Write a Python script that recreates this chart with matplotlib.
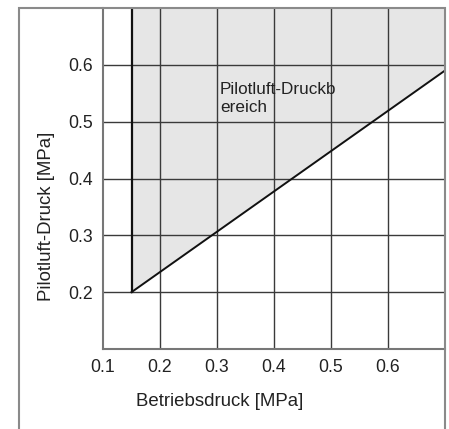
import numpy as np
import matplotlib
matplotlib.use("Agg")
import matplotlib.pyplot as plt
from matplotlib.patches import Rectangle

# Chart data
x_ticks = [0.1, 0.2, 0.3, 0.4, 0.5, 0.6]
y_ticks = [0.2, 0.3, 0.4, 0.5, 0.6]
x_limits = [0.1, 0.7]
y_limits = [0.1, 0.7]

# Boundary of the pilot air pressure range
boundary_x = [0.15, 0.7]
boundary_y = [0.2, 0.59]
region_label = "Pilotluft-Druckb\nereich"
region_label_pos = (0.305, 0.57)

plt.rcParams["font.family"] = ["Liberation Sans", "DejaVu Sans"]

fig = plt.figure(figsize=(4.49, 4.29), dpi=100)
ax = fig.add_axes([103 / 449, 80 / 429, 342 / 449, 341 / 429])

# Shaded region above the diagonal, right of x = 0.15
fill_x = np.array(boundary_x)
ax.fill_between(fill_x, boundary_y, y_limits[1], color="#e6e6e6", zorder=0, lw=0)

# Grid
for xv in x_ticks[1:]:
    ax.axvline(xv, color="#3a3a3a", lw=1.0, zorder=1)
for yv in y_ticks:
    ax.axhline(yv, color="#3a3a3a", lw=1.0, zorder=1)

# Boundary lines
ax.plot([boundary_x[0], boundary_x[0]], [boundary_y[0], y_limits[1]],
        color="#111111", lw=1.6, zorder=3)
ax.plot(boundary_x, boundary_y, color="#111111", lw=1.4, zorder=3)

ax.text(region_label_pos[0], region_label_pos[1], region_label,
        fontsize=12.3, color="#222222", va="top", ha="left",
        linespacing=1.3, zorder=4)

ax.set_xlim(x_limits)
ax.set_ylim(y_limits)
ax.set_xticks(x_ticks)
ax.set_yticks(y_ticks)
ax.set_xticklabels([f"{v:.1f}" for v in x_ticks])
ax.set_yticklabels([f"{v:.1f}" for v in y_ticks])
ax.tick_params(length=0, labelsize=12.7, colors="#222222", pad=7)

for side in ["left", "bottom"]:
    ax.spines[side].set_color("#777777")
    ax.spines[side].set_linewidth(1.5)
ax.spines["top"].set_visible(False)
ax.spines["right"].set_visible(False)

# Axis labels sit centred on the figure, not on the axes
ax.set_xlabel("Betriebsdruck [MPa]", fontsize=13.4, color="#222222", va="center")
ax.xaxis.set_label_coords((220 - 103) / 342, (349 - 401) / 341)
ax.set_ylabel("Pilotluft-Druck [MPa]", fontsize=13.4, color="#222222", va="center")
ax.yaxis.set_label_coords((47 - 103) / 342, (349 - 216) / 341)

# Outer frame around the figure, cut off at the bottom
fig.patches.append(Rectangle((19 / 449, -0.05), (445 - 19) / 449, (421 / 429) + 0.05,
                             transform=fig.transFigure, fill=False,
                             edgecolor="#8a8a8a", lw=1.5, zorder=10))

fig.savefig("out.png", dpi=100)
